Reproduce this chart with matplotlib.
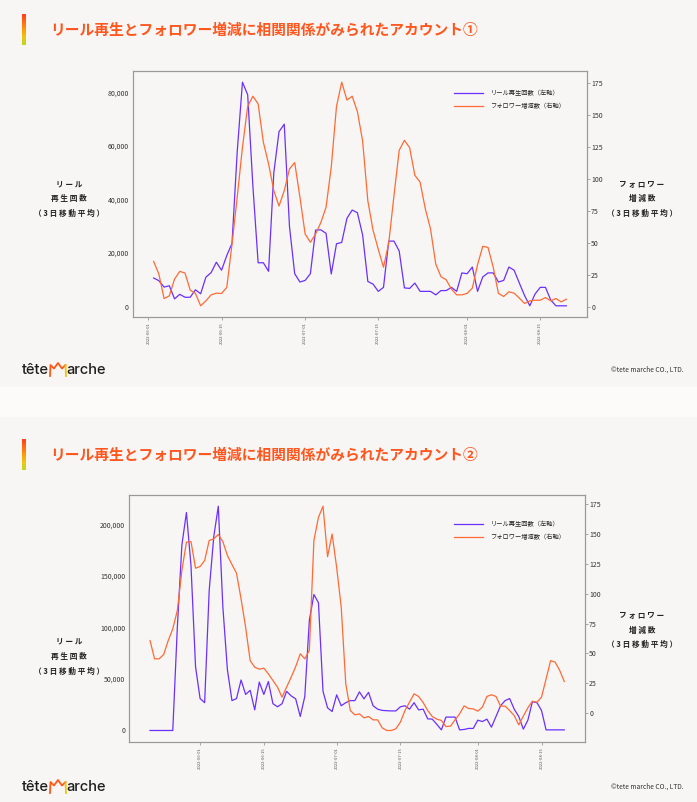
import numpy as np
import pandas as pd
import matplotlib
matplotlib.use("Agg")
import matplotlib.pyplot as plt
import matplotlib.dates as mdates
from matplotlib.ticker import FuncFormatter, MultipleLocator
from matplotlib.colors import LinearSegmentedColormap
from matplotlib.lines import Line2D

plt.rcParams['font.family'] = ['Noto Sans CJK JP', 'DejaVu Sans']

#%% data (3-day moving averages)
dates1 = pd.date_range("2022-06-02", "2022-08-20", freq="D")
reel1 = [10700, 9700, 7300, 7800, 2900, 4600, 3500, 3500, 6300, 4800,
         11000, 12700, 16600, 13600, 19100, 23600, 58000, 83900, 79200, 45000,
         16400, 16400, 13200, 50000, 65400, 68200, 30000, 12300, 9200, 9800,
         12300, 28600, 28700, 27400, 12200, 23500, 24000, 33000, 36100, 35100,
         26800, 9400, 8400, 5700, 7200, 24500, 24500, 20800, 7000, 6800,
         8800, 5700, 5700, 5700, 4400, 6000, 6000, 7200, 5700, 12600,
         12300, 14800, 5700, 11100, 12600, 12600, 9200, 9800, 14800, 13600,
         8800, 4150, 300, 4700, 7200, 7200, 2500, 300, 300, 300]
follow1 = [35.6, 25.7, 6.5, 8.6, 21.7, 27.8, 26.5, 13.1, 10.5, 0.8,
           4.7, 9.4, 10.7, 10.5, 15.2, 49, 86, 125, 157, 165,
           159, 129, 112, 91, 79, 91, 108, 113, 86, 57,
           50.6, 57, 66, 78, 109.5, 157, 176, 162, 165, 153,
           130, 83, 60, 45, 31, 50, 87, 122.6, 130.5, 124.7,
           103, 97.7, 76.8, 61, 33.5, 23.6, 21.2, 13.9, 9.4, 9.4,
           10.5, 14.7, 33, 47.4, 46.6, 31, 10.5, 8.1, 11.8, 10.7,
           6.8, 2.6, 4.7, 5.2, 5.2, 7.3, 4.7, 6.5, 3.9, 6]

dates2 = pd.date_range("2022-05-21", "2022-08-20", freq="D")
reel2 = [0, 0, 0, 0, 0, 0, 100000, 180000, 211600, 160000,
         62000, 31000, 27000, 136000, 188000, 217700, 120000, 59000, 29000, 31000,
         49000, 35000, 39000, 20000, 47000, 35000, 47500, 26000, 23000, 26000,
         38000, 33600, 30700, 13600, 33000, 107000, 132000, 124000, 38000, 22000,
         18400, 34600, 24000, 27000, 29000, 29000, 37500, 30700, 37000, 24000,
         20700, 19500, 19200, 19000, 19000, 23000, 24000, 20700, 27000, 20000,
         20700, 11300, 11000, 6000, 600, 13000, 13000, 13000, 600, 1000,
         2000, 2000, 10000, 8700, 11000, 3200, 13600, 24000, 29000, 31000,
         20700, 13600, 1300, 10000, 28000, 27000, 19400, 600, 600, 600,
         600, 600]
follow2 = [60.8, 45.5, 45.5, 49.1, 60.8, 70.6, 86, 119.5, 143.2, 143.7,
           121.4, 122.8, 127.8, 144.6, 146, 149.6, 143.7, 132, 124.5, 117.2,
           95.7, 72, 44, 38.5, 36.8, 37.7, 32.9, 27.4, 21.8, 13.4,
           21.8, 30.1, 39, 49.7, 45.5, 52.5, 144.6, 164, 173.3, 131,
           150, 122, 88.8, 24.6, 2.2, -1.4, -0.6, -3.9, -2.8, -5.6,
           -5.6, -12.3, -14.5, -14.5, -13.1, -7.5, 2.2, 9.2, 16.2, 14,
           8.9, 2.2, -2.8, -5, -6.1, -11.2, -10.9, -5.6, -0.6, 6.1,
           3.9, 3.6, 1.7, 5, 14, 15.4, 14, 5.9, 5.9, 2.2,
           -2, -9.8, -2.5, 4.5, 10, 9.2, 13.4, 28.7, 44, 42.7,
           35.7, 26.5]

tick_dates = ["2022-06-01", "2022-06-15", "2022-07-01",
              "2022-07-15", "2022-08-01", "2022-08-15"]
titles = ["リール再生とフォロワー増減に相関関係がみられたアカウント①",
          "リール再生とフォロワー増減に相関関係がみられたアカウント②"]
legend_labels = ["リール再生回数（左軸）", "フォロワー増減数（右軸）"]
left_label = ["リ ー ル", "再 生 回 数", "（ 3 日 移 動 平 均 ）"]
right_label = ["フ ォ ロ ワ ー", "増 減 数", "（ 3 日 移 動 平 均 ）"]

BLUE = "#6A30FF"
ORANGE = "#FF6A35"
SLIDE = "#F7F6F4"
GAP = "#FCFBFA"
W, H = 697, 802


def px(x, y):
    return x / W, 1 - y / H


fig = plt.figure(figsize=(6.97, 8.02), dpi=100, facecolor=GAP)

# slide backgrounds
fig.patches.append(plt.Rectangle(px(0, 387), 1, 387 / H, transform=fig.transFigure,
                                 facecolor=SLIDE, edgecolor="none", zorder=-5))
fig.patches.append(plt.Rectangle(px(0, 802), 1, (802 - 417) / H, transform=fig.transFigure,
                                 facecolor=SLIDE, edgecolor="none", zorder=-5))

grad = LinearSegmentedColormap.from_list(
    "bar", ["#FF401C", "#FF6A14", "#FF9A0A", "#F2C410", "#BCD820"])

panels = [
    dict(dates=dates1, reel=reel1, follow=follow1, box=(133, 71, 587, 317),
         title_y=30, bar=(14, 45), llab=(185, 199, 213), rlab=(184, 199, 213),
         leg=(90.7,), logo_y=370),
    dict(dates=dates2, reel=reel2, follow=follow2, box=(129.3, 495, 585, 741.7),
         title_y=455, bar=(439, 470), llab=(642, 657, 671), rlab=(615, 630, 644),
         leg=(522,), logo_y=787),
]

for i, p in enumerate(panels):
    x0, y0, x1, y1 = p["box"]
    ax = fig.add_axes([x0 / W, 1 - y1 / H, (x1 - x0) / W, (y1 - y0) / H])
    ax.set_facecolor(SLIDE)
    l1, = ax.plot(p["dates"], p["reel"], color=BLUE, lw=0.9)
    ax2 = ax.twinx()
    l2, = ax2.plot(p["dates"], p["follow"], color=ORANGE, lw=0.9)

    ax.yaxis.set_major_formatter(FuncFormatter(lambda v, pos: f"{v:,.0f}"))
    ax.tick_params(axis="y", length=0, pad=3, labelsize=5, labelcolor="#333333")
    ax2.yaxis.set_major_locator(MultipleLocator(25))
    ax2.tick_params(axis="y", length=2, width=0.5, pad=1, labelsize=5,
                    labelcolor="#333333", color="#888888")

    ax.set_xticks(pd.to_datetime(tick_dates))
    ax.xaxis.set_major_formatter(mdates.DateFormatter("%Y-%m-%d"))
    ax.tick_params(axis="x", length=2, width=0.5, pad=2, labelsize=3,
                   labelcolor="#555555", color="#888888", labelrotation=90)
    for a in (ax, ax2):
        for s in a.spines.values():
            s.set_color("#999999")
            s.set_linewidth(0.8)

    leg = ax2.legend([l1, l2], legend_labels, loc="upper right",
                     bbox_to_anchor=((571 - x0) / (x1 - x0), 1 - (p["leg"][0] - 7 - y0) / (y1 - y0)),
                     frameon=False, fontsize=4.5, handlelength=4.6,
                     handletextpad=1.2, labelspacing=0.75)
    for t in leg.get_texts():
        t.set_color("#222222")

    # axis titles
    for txt, yy in zip(left_label, p["llab"]):
        fig.text(*px(69, yy), txt, ha="center", va="center", fontsize=5.5,
                 fontweight="bold", color="#222222")
    for txt, yy in zip(right_label, p["rlab"]):
        fig.text(*px(642, yy), txt, ha="center", va="center", fontsize=5.5,
                 fontweight="bold", color="#222222")

    # slide title + gradient bar
    fig.text(*px(50, p["title_y"]), titles[i], ha="left", va="center", fontsize=10.6,
             fontweight="bold", color="#FF561E")
    b0, b1 = p["bar"]
    bax = fig.add_axes([22 / W, 1 - b1 / H, 4 / W, (b1 - b0) / H])
    bax.imshow(np.linspace(0, 1, 64).reshape(-1, 1), aspect="auto", cmap=grad)
    bax.axis("off")

    # logo and footer
    ly = p["logo_y"]
    fig.text(*px(22, ly), "tête", ha="left", va="center", fontsize=10.5,
             family=["Inter", "DejaVu Sans"], fontweight="medium", color="#1E1E1E")
    fig.text(*px(66, ly), "arche", ha="left", va="center", fontsize=10.5,
             family=["Inter", "DejaVu Sans"], fontweight="medium", color="#1E1E1E")
    cx = [50, 50.5, 54, 58, 62, 65.5, 66]
    cy = [ly + 6, ly - 5, ly - 1.5, ly - 7, ly - 1.5, ly - 5, ly + 6]
    fx, fy = zip(*[px(a, b) for a, b in zip(cx, cy)])
    fig.lines.append(Line2D(fx[:6], fy[:6], transform=fig.transFigure,
                            color="#FF5A1A", lw=1.3))
    fig.lines.append(Line2D(fx[5:], fy[5:], transform=fig.transFigure,
                            color="#F5C400", lw=1.3))
    fig.text(*px(684, ly), "©tete marche CO., LTD.", ha="right", va="center",
             fontsize=4.8, color="#333333")

fig.savefig("out.png", dpi=100, facecolor=GAP)
